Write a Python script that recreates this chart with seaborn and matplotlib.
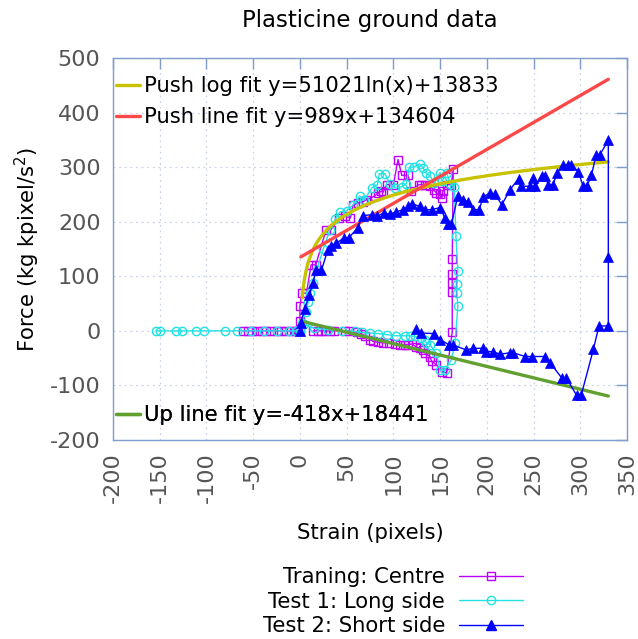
import numpy as np
import matplotlib
matplotlib.use("Agg")
import matplotlib.pyplot as plt
import seaborn as sns
from matplotlib.lines import Line2D

# Training run: pushing on the centre of the plasticine block
train_x = [-61, -56, -51, -46, -41, -36, -31, -25, -20, -15, -10, -5, -2, 0,
           0, 0, 2, 7, 12, 17, 28, 33, 42, 48, 54, 57, 62, 68, 71, 80, 84, 87,
           89, 93, 100, 105, 109, 116, 119, 127, 130, 134, 139, 143, 146, 150,
           152, 153, 157, 162, 164,
           163, 163, 163, 163, 163,
           157, 152, 146, 141, 139, 134, 132, 128, 124, 120, 116, 112, 107,
           102, 95, 89, 84, 78, 75, 70, 65, 61, 52, 48, 36, 32, 27, 23, 19, 14]
train_y = [0, 0, 0, 0, 0, 0, 0, 0, 0, 0, 0, 0, 0, 0,
           18, 45, 69, 69, 121, 121, 185, 185, 207, 210, 207, 231, 234, 237,
           240, 247, 253, 256, 254, 268, 268, 314, 285, 285, 256, 268, 268,
           268, 265, 259, 253, 250, 244, 256, 268, 268, 297,
           131, 105, 87, 71, -2,
           -77, -75, -62, -56, -47, -41, -35, -32, -29, -24, -25, -25, -25,
           -24, -22, -22, -21, -19, -16, -9, -5, -3, 0, 0, 0, 0, 0, 0, 0, 0]

# Test 1: pushing on the long side
long_x = [-154, -150, -133, -126, -111, -103, -80, -67, -52, -38, -24, -12, -4,
          0, 2, 6, 9, 11, 14, 18, 25, 32, 38, 43, 50, 57, 64, 69, 77, 83, 85,
          91, 96, 102, 109, 114, 117, 122, 128, 132, 135, 139, 144, 150, 152,
          157, 161, 165,
          167, 169, 168, 168, 169, 166,
          162, 155, 150, 146, 139, 135, 134, 130, 123, 118, 112, 103, 93, 84,
          75, 66, 59, 45, 30, 15, 4]
long_y = [0, 0, 0, 0, 0, 0, 0, 0, 0, 0, 0, 0, 0,
          0, 14, 35, 53, 70, 88, 112, 150, 185, 205, 218, 220, 231, 247, 240,
          262, 268, 288, 288, 270, 262, 264, 270, 300, 300, 306, 298, 290,
          284, 271, 290, 274, 290, 270, 264,
          173, 110, 85, 70, 45, -22,
          -53, -72, -72, -41, -25, -22, -16, -13, -10, -9, -9, -9, -7, -5,
          -4, -3, -1, 0, 2, 5, 12]

# Test 2: pushing on the short side
short_x = [0, 1, 5, 10, 14, 17, 23, 30, 33, 39, 47, 52, 62, 67, 77, 82, 90,
           96, 103, 110, 116, 120, 128, 134, 141, 150, 155, 158, 162, 169,
           175, 180, 185, 192, 196, 203, 209, 216, 225, 234, 237, 246, 249,
           252, 259, 262, 266, 271, 275, 282, 287, 290, 298, 303, 307, 312,
           317, 321, 330,
           330, 330, 320, 314, 301, 296, 285, 280, 268, 262, 248, 241, 228,
           225, 214, 207, 199, 196, 185, 178, 164, 160, 150, 143, 130, 124]
short_y = [0, 14, 40, 65, 88, 111, 111, 149, 155, 161, 170, 170, 189, 211,
           213, 210, 216, 214, 218, 222, 228, 233, 228, 222, 222, 226, 207,
           195, 195, 247, 240, 237, 222, 222, 246, 252, 250, 231, 259, 279,
           265, 265, 280, 265, 283, 283, 268, 268, 289, 304, 304, 304, 292,
           265, 265, 285, 323, 323, 349,
           135, 9, 9, -34, -118, -118, -86, -86, -59, -47, -47, -47, -40,
           -40, -43, -38, -38, -32, -32, -35, -26, -26, -16, -5, -4, 3]

# Fitted coefficients (force in kg pixel/s^2, plotted in thousands)
log_a, log_b = 51021, 13833
push_m, push_c = 989, 134604
up_m, up_c = -418, 18441

x_ticks = list(range(-200, 351, 50))
y_ticks = list(range(-200, 501, 100))

c_train = "#c000ff"
c_long = "#22e2e2"
c_short = "#0000ff"
c_log = "#c8c200"
c_push = "#ff4848"
c_up = "#62a032"
frame_col = "#7f9ccc"
grid_col = "#c9d3e6"

sns.set_style("white")
plt.rcParams["font.family"] = ["DejaVu Sans"]
plt.rcParams["axes.unicode_minus"] = False
plt.rcParams["text.color"] = "black"
plt.rcParams["axes.labelcolor"] = "black"
fs_tick = 16
fs_text = 15.2
fs_title = 16.5

fig = plt.figure(figsize=(6.38, 6.39), dpi=100)
ax = fig.add_axes([113 / 638, 1 - 440 / 639, 514 / 638, 382 / 639])

common = dict(sort=False, estimator=None, ax=ax, legend=False, lw=1.0)
sns.lineplot(x=train_x, y=train_y, color=c_train, marker="s", markersize=6,
             markerfacecolor="none", markeredgecolor=c_train,
             markeredgewidth=1.0, zorder=3, **common)
sns.lineplot(x=long_x, y=long_y, color=c_long, marker="o", markersize=6,
             markerfacecolor="none", markeredgecolor=c_long,
             markeredgewidth=1.0, zorder=3, **common)

# Fit curves
xs_log = np.linspace(2.5, 330, 300)
sns.lineplot(x=xs_log, y=(log_a * np.log(xs_log) + log_b) / 1000, color=c_log,
             lw=2.4, ax=ax, legend=False, zorder=4)
xs_push = np.array([1, 330])
sns.lineplot(x=xs_push, y=(push_m * xs_push + push_c) / 1000, color=c_push,
             lw=2.4, ax=ax, legend=False, zorder=4)
xs_up = np.array([1, 330])
sns.lineplot(x=xs_up, y=(up_m * xs_up + up_c) / 1000, color=c_up,
             lw=2.4, ax=ax, legend=False, zorder=4)

sns.lineplot(x=short_x, y=short_y, color=c_short, marker="^", markersize=7,
             markerfacecolor=c_short, markeredgecolor=c_short,
             markeredgewidth=0.5, zorder=5, **common)

ax.set_xlim(-200, 350)
ax.set_ylim(-200, 500)
ax.set_xticks(x_ticks)
ax.set_yticks(y_ticks)
ax.grid(True, color=grid_col, linestyle=(0, (1.5, 3)), lw=0.9)
ax.set_axisbelow(True)
for sp in ax.spines.values():
    sp.set_color(frame_col)
    sp.set_linewidth(1.0)
ax.tick_params(direction="in", length=8, width=1, top=True, right=True,
               color=frame_col, labelcolor="#555555", labelsize=fs_tick)
ax.tick_params(axis="x", pad=9)
ax.tick_params(axis="y", pad=9)
plt.setp(ax.get_xticklabels(), rotation=90)

ax.set_xlabel("Strain (pixels)", fontsize=fs_text)
ax.xaxis.set_label_coords(0.5, -0.218)
ax.set_ylabel("Force (kg kpixel/s$^2$)", fontsize=fs_text)
ax.yaxis.set_label_coords(-0.138, 0.5)
fig.text(370 / 638, 1 - 20 / 639, "Plasticine ground data", ha="center",
         va="center", fontsize=fs_title)

# Fit legends inside the axes
fit_handles = [Line2D([], [], color=c_log, lw=2.4),
               Line2D([], [], color=c_push, lw=2.4)]
fit_labels = ["Push log fit y=%dln(x)+%d" % (log_a, log_b),
              "Push line fit y=%dx+%d" % (push_m, push_c)]
leg1 = ax.legend(fit_handles, fit_labels, loc="upper left",
                 bbox_to_anchor=(3 / 514, 1 - 18 / 382), frameon=False,
                 fontsize=fs_text, handlelength=1.15, handletextpad=0.2,
                 labelspacing=0.52, borderpad=0, borderaxespad=0)
ax.add_artist(leg1)
leg2 = ax.legend([Line2D([], [], color=c_up, lw=2.4)],
                 ["Up line fit y=%dx+%d" % (up_m, up_c)], loc="center left",
                 bbox_to_anchor=(3 / 514, (440 - 415) / 382), frameon=False,
                 fontsize=fs_text, handlelength=1.15, handletextpad=0.2,
                 borderpad=0, borderaxespad=0)
ax.add_artist(leg2)

# Data legend below the axes
data_handles = [
    Line2D([], [], color=c_train, lw=1.0, marker="s", markersize=6,
           markerfacecolor="none", markeredgecolor=c_train),
    Line2D([], [], color=c_long, lw=1.0, marker="o", markersize=6,
           markerfacecolor="none", markeredgecolor=c_long),
    Line2D([], [], color=c_short, lw=1.0, marker="^", markersize=7,
           markerfacecolor=c_short, markeredgecolor=c_short),
]
data_labels = ["Traning: Centre", "Test 1: Long side", "Test 2: Short side"]
fig.legend(data_handles, data_labels, loc="upper right",
           bbox_to_anchor=(523 / 638, 1 - 567 / 639), frameon=False,
           fontsize=fs_text, markerfirst=False, handlelength=3.05,
           handletextpad=0.65, labelspacing=0.22, borderpad=0,
           borderaxespad=0)

fig.savefig("out.png", dpi=100)
